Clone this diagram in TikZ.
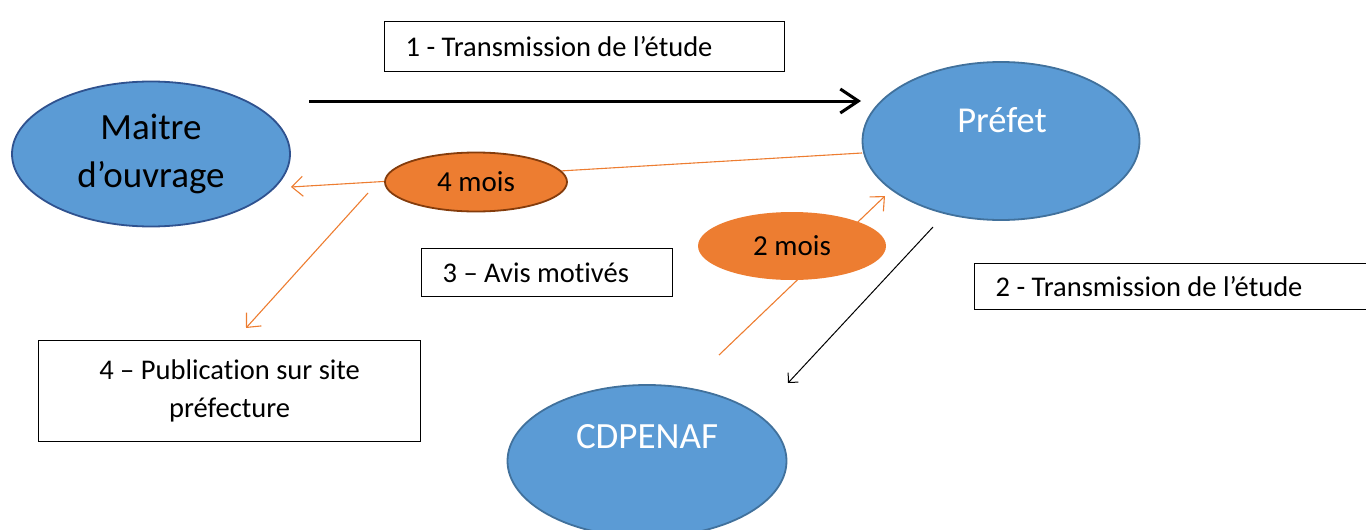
\documentclass[tikz,border=0pt]{standalone}
\usepackage{fontspec}
\setmainfont{Carlito}[Ligatures=NoCommon]
\usetikzlibrary{shapes.geometric,arrows.meta}
\definecolor{bleu}{HTML}{5B9BD5}
\definecolor{bleufonce}{HTML}{41719C}
\definecolor{bleunuit}{HTML}{2F528F}
\definecolor{orange}{HTML}{ED7D31}
\definecolor{brun}{HTML}{843C0C}
\tikzset{
	acteur/.style = {ellipse, fill=bleu, draw=bleufonce, line width=1.8pt, inner sep=0pt},
	delai/.style = {ellipse, fill=orange, inner sep=0pt, font=\fontsize{29}{34}\selectfont},
	etape/.style = {draw, line width=1.3pt, anchor=north west, inner xsep=21pt, inner ysep=0pt, align=flush left, font=\fontsize{28.5}{38}\selectfont},
	fleche/.style = {-{Straight Barb[length=11pt,width=20pt]}, orange, line width=1.1pt},
}
\begin{document}
\begin{tikzpicture}[x=1pt, y=-1pt]
	\path[use as bounding box] (0,0) rectangle (1366,530);
	% coordonnees des fleches
	\coordinate (p1) at (862,153);
	\coordinate (m1) at (291,187);
	\coordinate (q1) at (368,193);
	\coordinate (q2) at (246,328);
	\coordinate (c1) at (719,355);
	\coordinate (c2) at (885,196);
	\coordinate (b1) at (933,227);
	\coordinate (b2) at (788,383);
	\coordinate (t1) at (309,101);
	\coordinate (t2) at (861,101);
	% fleches derriere les bulles
	\draw[fleche] (p1) -- (m1);
	\draw[fleche] (c1) -- (c2);
	\draw[fleche] (q1) -- (q2);
	\draw[-{Straight Barb[length=7pt,width=14pt]}, line width=1pt] (b1) -- (b2);
	\draw[-{Straight Barb[length=18pt,width=24pt]}, line width=3pt] (t1) -- (t2);
	% acteurs
	\node[acteur, draw=bleunuit, minimum width=278pt, minimum height=145pt, align=center, font=\fontsize{37}{48}\selectfont] (maitre) at (151,154) {Maitre\\d’ouvrage};
	\node[acteur, minimum width=277pt, minimum height=158pt] (prefet) at (1001,141) {};
	\node[white, font=\fontsize{36.5}{40}\selectfont] (prefet-txt) at (1002,120) {Préfet};
	\node[acteur, minimum width=279pt, minimum height=152pt] (cdpenaf) at (647,461) {};
	\node[white, font=\fontsize{37}{40}\selectfont] (cdpenaf-txt) at (647,437) {CDPENAF};
	% delais
	\node[delai, draw=brun, line width=1.8pt, minimum width=182pt, minimum height=59pt] (quatre) at (476,182) {4 mois};
	\node[delai, minimum width=188pt, minimum height=68pt] (deux) at (792,246) {2 mois};
	% etapes
	\node[etape, minimum width=400pt, minimum height=50pt, text width=358pt] (etape1) at (384,21) {1 - Transmission de l’étude};
	\node[etape, minimum width=392pt, minimum height=46pt, text width=350pt] (etape2) at (974,263) {2 - Transmission de l’étude};
	\node[etape, minimum width=251pt, minimum height=48pt, text width=209pt] (etape3) at (421,248) {3 – Avis motivés};
	\node[etape, minimum width=382pt, minimum height=101pt, text width=340pt, align=flush center] (etape4) at (38,340) {4 – Publication sur site\\préfecture};
\end{tikzpicture}
\end{document}
